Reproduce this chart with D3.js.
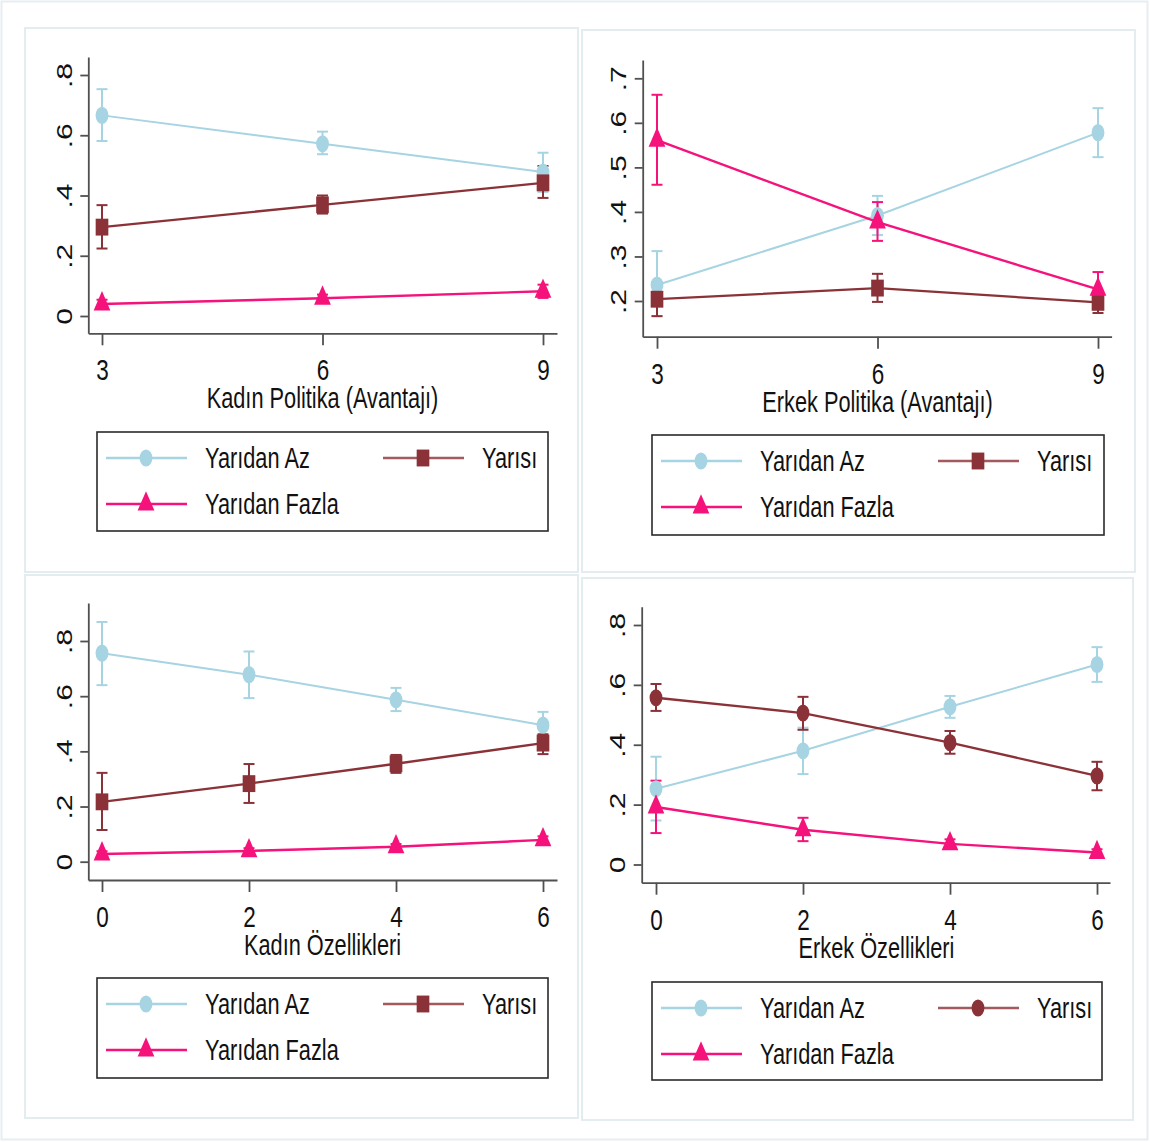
<!DOCTYPE html>
<html><head><meta charset="utf-8">
<script src="https://cdn.jsdelivr.net/npm/d3@7"></script>
<style>body{margin:0;background:#fff}</style>
</head><body>
<svg id="chart" width="1150" height="1142"></svg>
<script>
// Series names and colours (shared by all four panels)
const seriesNames = ["Yarıdan Az", "Yarısı", "Yarıdan Fazla"];
const seriesColors = ["#a7d4e2", "#8b3238", "#f5127b"];

// x categories
const xPolitika = [3, 6, 9];
const xOzellik = [0, 2, 4, 6];

// y tick values
const yTicksA = [0, 0.2, 0.4, 0.6, 0.8];
const yTicksB = [0.2, 0.3, 0.4, 0.5, 0.6, 0.7];

// Kadın Politika (Avantajı)
const kpAz = [0.666, 0.572, 0.478], kpAzLo = [0.581, 0.537, 0.412], kpAzHi = [0.753, 0.612, 0.542];
const kpYa = [0.295, 0.369, 0.442], kpYaLo = [0.224, 0.340, 0.392], kpYaHi = [0.368, 0.400, 0.498];
const kpFa = [0.040, 0.059, 0.082], kpFaLo = [0.026, 0.047, 0.060], kpFaHi = [0.054, 0.071, 0.104];

// Erkek Politika (Avantajı)
const epAz = [0.236, 0.392, 0.578], epAzLo = [0.166, 0.348, 0.523], epAzHi = [0.312, 0.436, 0.633];
const epYa = [0.204, 0.229, 0.197], epYaLo = [0.166, 0.198, 0.173], epYaHi = [0.242, 0.261, 0.220];
const epFa = [0.561, 0.377, 0.226], epFaLo = [0.461, 0.335, 0.187], epFaHi = [0.663, 0.422, 0.265];

// Kadın Özellikleri
const koAz = [0.756, 0.678, 0.587, 0.495], koAzLo = [0.640, 0.593, 0.546, 0.450], koAzHi = [0.869, 0.762, 0.630, 0.543];
const koYa = [0.217, 0.283, 0.355, 0.430], koYaLo = [0.115, 0.213, 0.322, 0.390], koYaHi = [0.322, 0.354, 0.387, 0.462];
const koFa = [0.028, 0.039, 0.054, 0.079], koFaLo = [0.018, 0.029, 0.044, 0.066], koFaHi = [0.038, 0.049, 0.064, 0.092];

// Erkek Özellikleri
const eoAz = [0.253, 0.380, 0.527, 0.668], eoAzLo = [0.147, 0.302, 0.490, 0.610], eoAzHi = [0.360, 0.457, 0.563, 0.726];
const eoYa = [0.557, 0.506, 0.407, 0.296], eoYaLo = [0.513, 0.450, 0.370, 0.248], eoYaHi = [0.603, 0.560, 0.446, 0.343];
const eoFa = [0.192, 0.116, 0.069, 0.040], eoFaLo = [0.105, 0.078, 0.056, 0.030], eoFaHi = [0.280, 0.156, 0.084, 0.051];

const FONT = "'Liberation Sans', Arial, sans-serif";
const SQ = 0.75;          // horizontal condensing of text and markers
const AXIS_COL = "#505050";

const svg = d3.select("#chart");
svg.append("rect").attr("x", 1.5).attr("y", 1.5).attr("width", 1146).attr("height", 1138)
  .attr("fill", "#fff").attr("stroke", "#e6eef1").attr("stroke-width", 2);

const panels = [
  { frame: [25, 28, 578, 572], title: "Kadın Politika (Avantajı)", xs: xPolitika,
    xTickPx: [102, 543], xExt: [88.3, 557], yTicks: yTicksA, yTickPx: [316, 75], yExt: [333.3, 57],
    legend: [97, 432, 548, 531], midMarker: "square",
    series: [[kpAz, kpAzLo, kpAzHi], [kpYa, kpYaLo, kpYaHi], [kpFa, kpFaLo, kpFaHi]] },
  { frame: [582, 30, 1135, 572], title: "Erkek Politika (Avantajı)", xs: xPolitika,
    xTickPx: [657, 1098], xExt: [642.7, 1111.6], yTicks: yTicksB, yTickPx: [301, 78.3], yExt: [336.7, 60],
    legend: [652, 435, 1104, 535], midMarker: "square",
    series: [[epAz, epAzLo, epAzHi], [epYa, epYaLo, epYaHi], [epFa, epFaLo, epFaHi]] },
  { frame: [25, 575, 578, 1118], title: "Kadın Özellikleri", xs: xOzellik,
    xTickPx: [102, 543], xExt: [88.3, 557], yTicks: yTicksA, yTickPx: [861.7, 641], yExt: [880, 603],
    legend: [97, 978, 548, 1078], midMarker: "square",
    series: [[koAz, koAzLo, koAzHi], [koYa, koYaLo, koYaHi], [koFa, koFaLo, koFaHi]] },
  { frame: [582, 578, 1133, 1120], title: "Erkek Özellikleri", xs: xOzellik,
    xTickPx: [656, 1097], xExt: [641.7, 1110], yTicks: yTicksA, yTickPx: [864.5, 625], yExt: [882.7, 606.7],
    legend: [652, 982, 1102, 1080], midMarker: "circle",
    series: [[eoAz, eoAzLo, eoAzHi], [eoYa, eoYaLo, eoYaHi], [eoFa, eoFaLo, eoFaHi]] }
];

const symbolOf = { circle: d3.symbolCircle, square: d3.symbolSquare, triangle: d3.symbolTriangle };
const sizeOf = { circle: 230, square: 285, triangle: 215 };
function markerPath(shape) { return d3.symbol().type(symbolOf[shape]).size(sizeOf[shape])(); }
const yFmt = d => d === 0 ? "0" : String(+d.toFixed(2)).replace(/^0/, "");
const lineW = [2, 2.3, 2.4];

panels.forEach(p => {
  const g = svg.append("g");
  const [fx0, fy0, fx1, fy1] = p.frame;
  g.append("rect").attr("x", fx0).attr("y", fy0).attr("width", fx1 - fx0).attr("height", fy1 - fy0)
    .attr("fill", "#fff").attr("stroke", "#e3edf0").attr("stroke-width", 2);

  const xs = p.xs;
  const x = d3.scaleLinear().domain([xs[0], xs[xs.length - 1]]).range(p.xTickPx);
  x.domain(p.xExt.map(x.invert)).range(p.xExt);
  const yt = p.yTicks;
  const y = d3.scaleLinear().domain([yt[0], yt[yt.length - 1]]).range(p.yTickPx);
  y.domain(p.yExt.map(y.invert)).range(p.yExt);

  const markers = ["circle", p.midMarker, "triangle"];

  // x axis
  const gx = g.append("g").attr("transform", `translate(0,${p.yExt[0]})`)
    .call(d3.axisBottom(x).tickValues(xs).tickSize(12).tickSizeOuter(0).tickFormat(d3.format("d")));
  gx.select(".domain").attr("stroke", AXIS_COL).attr("stroke-width", 1.8);
  gx.selectAll(".tick line").attr("stroke", AXIS_COL).attr("stroke-width", 1.8);
  gx.selectAll(".tick text").attr("y", null).attr("dy", null)
    .attr("transform", `translate(0,47) scale(${SQ},1)`)
    .attr("font-family", FONT).attr("font-size", 30).attr("fill", "#111");

  // y axis
  const gy = g.append("g").attr("transform", `translate(${p.xExt[0]},0)`)
    .call(d3.axisLeft(y).tickValues(yt).tickSize(8).tickSizeOuter(0).tickFormat(yFmt));
  gy.select(".domain").attr("stroke", AXIS_COL).attr("stroke-width", 1.8);
  gy.selectAll(".tick line").attr("stroke", AXIS_COL).attr("stroke-width", 1.8);
  gy.selectAll(".tick text").attr("x", null).attr("dy", null).attr("text-anchor", "middle")
    .attr("transform", `translate(-16.6,0) scale(${SQ},1) rotate(-90)`)
    .attr("font-family", FONT).attr("font-size", 30).attr("fill", "#111");
  g.selectAll(".domain, .tick").attr("fill", null);

  // axis title
  g.append("text").attr("text-anchor", "middle")
    .attr("transform", `translate(${(p.xTickPx[0] + p.xTickPx[1]) / 2},${p.yExt[0] + 75}) scale(${SQ},1)`)
    .attr("font-family", FONT).attr("font-size", 29).attr("fill", "#111").text(p.title);

  // confidence interval caps
  p.series.forEach(([m, lo, hi], si) => {
    const col = seriesColors[si];
    const cg = g.append("g").attr("stroke", col).attr("stroke-width", 2).attr("fill", "none");
    xs.forEach((xv, i) => {
      const cx = x(xv);
      cg.append("line").attr("x1", cx).attr("x2", cx).attr("y1", y(lo[i])).attr("y2", y(hi[i]));
      cg.append("line").attr("x1", cx - 5.5).attr("x2", cx + 5.5).attr("y1", y(lo[i])).attr("y2", y(lo[i]));
      cg.append("line").attr("x1", cx - 5.5).attr("x2", cx + 5.5).attr("y1", y(hi[i])).attr("y2", y(hi[i]));
    });
  });

  // lines and markers
  p.series.forEach(([m], si) => {
    const col = seriesColors[si];
    const pts = xs.map((xv, i) => [xv, m[i]]);
    g.append("path").datum(pts)
      .attr("d", d3.line().x(d => x(d[0])).y(d => y(d[1])))
      .attr("fill", "none").attr("stroke", col).attr("stroke-width", lineW[si]);
    g.selectAll(null).data(pts).join("path")
      .attr("d", markerPath(markers[si]))
      .attr("transform", d => `translate(${x(d[0])},${y(d[1])}) scale(${SQ},1)`)
      .attr("fill", col);
  });

  // legend
  const [lx0, ly0, lx1, ly1] = p.legend;
  const lg = g.append("g");
  lg.append("rect").attr("x", lx0).attr("y", ly0).attr("width", lx1 - lx0).attr("height", ly1 - ly0)
    .attr("fill", "#fff").attr("stroke", "#2a2a2a").attr("stroke-width", 1.6);
  const slots = [[0, 26], [277, 26], [0, 72]];
  seriesNames.forEach((name, si) => {
    const ox = lx0 + slots[si][0], oy = ly0 + slots[si][1];
    const col = seriesColors[si];
    lg.append("line").attr("x1", ox + 9).attr("x2", ox + 90).attr("y1", oy).attr("y2", oy)
      .attr("stroke", col).attr("stroke-width", 2.4).attr("opacity", si === 1 ? 0.8 : 1);
    lg.append("path").attr("d", markerPath(markers[si]))
      .attr("transform", `translate(${ox + 49},${oy}) scale(${SQ},1)`).attr("fill", col);
    lg.append("text").attr("transform", `translate(${ox + 108},${oy + 10}) scale(${SQ},1)`)
      .attr("font-family", FONT).attr("font-size", 29).attr("fill", "#111").text(name);
  });
});
</script>
</body></html>
